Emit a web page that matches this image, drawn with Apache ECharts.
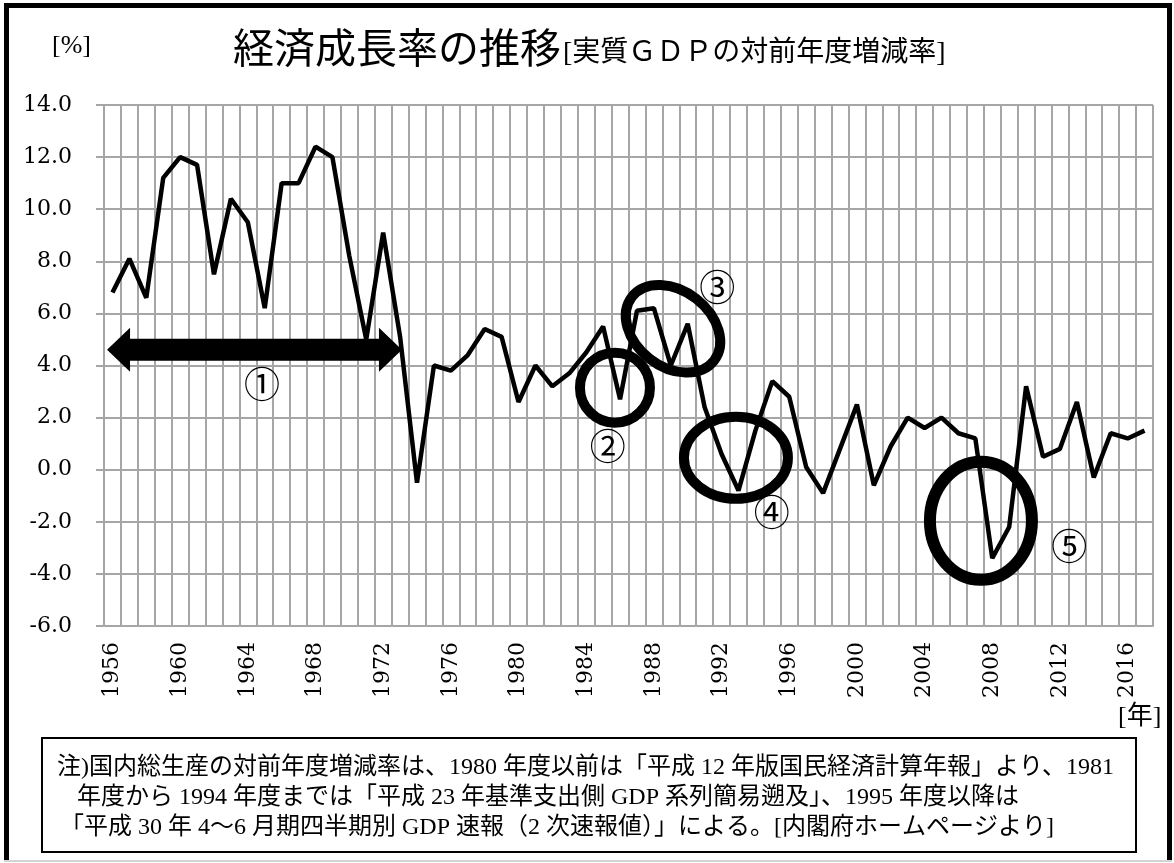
<!DOCTYPE html>
<html>
<head>
<meta charset="utf-8">
<script src="https://cdn.jsdelivr.net/npm/echarts@6/dist/echarts.min.js"></script>
<style>
html,body{margin:0;padding:0;background:#fff;}
#c{width:1174px;height:863px;}
</style>
</head>
<body>
<div id="c"></div>
<script>
// ---- data ----
const years = ['1956','1957','1958','1959','1960','1961','1962','1963','1964','1965',
  '1966','1967','1968','1969','1970','1971','1972','1973','1974','1975',
  '1976','1977','1978','1979','1980','1981','1982','1983','1984','1985',
  '1986','1987','1988','1989','1990','1991','1992','1993','1994','1995',
  '1996','1997','1998','1999','2000','2001','2002','2003','2004','2005',
  '2006','2007','2008','2009','2010','2011','2012','2013','2014','2015',
  '2016','2017'];
const growth = [6.8, 8.1, 6.6, 11.2, 12.0, 11.7, 7.5, 10.4, 9.5, 6.2,
  11.0, 11.0, 12.4, 12.0, 8.2, 5.0, 9.1, 5.1, -0.5, 4.0,
  3.8, 4.4, 5.4, 5.1, 2.6, 4.0, 3.2, 3.7, 4.5, 5.5,
  2.7, 6.1, 6.2, 4.0, 5.6, 2.4, 0.6, -0.8, 1.5, 3.4,
  2.8, 0.1, -0.9, 0.8, 2.5, -0.6, 0.9, 2.0, 1.6, 2.0,
  1.4, 1.2, -3.4, -2.2, 3.2, 0.5, 0.8, 2.6, -0.3, 1.4,
  1.2, 1.5];
const yMin = -6, yMax = 14, yStep = 2;
const titleMain = '経済成長率の推移';
const titleSub = '[実質ＧＤＰの対前年度増減率]';
const yUnit = '[%]';
const xUnit = '[年]';
const noteLines = [
  '注)国内総生産の対前年度増減率は、1980 年度以前は「平成 12 年版国民経済計算年報」より、1981',
  '年度から 1994 年度までは「平成 23 年基準支出側 GDP 系列簡易遡及」、1995 年度以降は',
  '「平成 30 年 4〜6 月期四半期別 GDP 速報（2 次速報値）」による。[内閣府ホームページより]'
];
// annotation anchors: [category index (fractional), value]
const arrowSpan = [-0.32, 17.11, 4.6];
const marks = [
  {label:'①', at:[8.84, 3.26]},
  {label:'②', at:[29.27, 0.88]},
  {label:'③', at:[35.75, 7.02]},
  {label:'④', at:[38.96, -1.64]},
  {label:'⑤', at:[56.55, -2.96]}
];
const ellipses = [
  {at:[29.7, 3.15], rx:35, ry:35, rot:0, w:10},
  {at:[33.13, 5.41], rx:52, ry:38, rot:-38, w:10},
  {at:[36.85, 0.46], rx:52, ry:41, rot:0, w:10},
  {at:[51.33, -1.96], rx:51, ry:59, rot:0, w:12}
];

const SERIF = "'Liberation Serif','Noto Sans CJK JP'";
const NUMF = "'DejaVu Serif','Liberation Serif',serif";
const CJK = "'Noto Sans CJK JP'";
const GRID = '#a6a6a6';

const chart = echarts.init(document.getElementById('c'), null, {renderer:'canvas'});
chart.setOption({
  animation: false,
  backgroundColor: '#fff',
  grid: {left:104, right:21, top:105, bottom:237, containLabel:false},
  xAxis: {
    type: 'category',
    data: years,
    boundaryGap: true,
    axisLine: {show:true, onZero:false, lineStyle:{color:GRID, width:2}},
    axisTick: {show:false, interval:0},
    axisLabel: {interval:3, rotate:90, margin:16, fontFamily:NUMF, fontSize:22, color:'#000'},
    splitLine: {show:true, interval:0, lineStyle:{color:GRID, width:2}}
  },
  yAxis: {
    type: 'value',
    min: yMin, max: yMax, interval: yStep,
    axisLine: {show:true, lineStyle:{color:GRID, width:2}},
    axisTick: {show:true, length:8, lineStyle:{color:GRID, width:2}},
    axisLabel: {margin:32, fontFamily:NUMF, fontSize:22, color:'#000',
      formatter: v => v.toFixed(1)},
    splitLine: {show:true, lineStyle:{color:GRID, width:2}}
  },
  series: [{
    type: 'line',
    data: growth,
    symbol: 'none',
    lineStyle: {color:'#000', width:4.5},
    itemStyle: {color:'#000'},
    z: 5
  }]
});

// annotations positioned through the axes
const n = years.length;
const x0 = chart.convertToPixel({xAxisIndex:0}, 0);
const x1 = chart.convertToPixel({xAxisIndex:0}, n - 1);
const px = f => x0 + (x1 - x0) * f / (n - 1);
const py = v => chart.convertToPixel({yAxisIndex:0}, v);

const g = [];
// outer frame
g.push({type:'polyline', z:100, shape:{points:[[6.5,861],[6.5,5.5],[1169.5,5.5],[1169.5,861]]},
  style:{stroke:'#000', lineWidth:5, fill:null}});
g.push({type:'line', z:100, shape:{x1:4, y1:861, x2:1172, y2:861}, style:{stroke:'#d4d4d4', lineWidth:2}});
// titles
g.push({type:'text', z:100, x:233, y:47, style:{text:titleMain, font:"41px "+CJK, fill:'#000', verticalAlign:'middle'}});
g.push({type:'text', z:100, x:563, y:54, style:{text:titleSub, font:"28px "+SERIF, fill:'#000', verticalAlign:'middle'}});
g.push({type:'text', z:100, x:52, y:46, style:{text:yUnit, font:"26px "+SERIF, fill:'#000', verticalAlign:'middle'}});
g.push({type:'text', z:100, x:1118, y:717, style:{text:xUnit, font:"26px "+SERIF, fill:'#000', verticalAlign:'middle'}});
// note box
g.push({type:'rect', z:100, shape:{x:42, y:738, width:1094, height:114}, style:{stroke:'#000', lineWidth:2, fill:null}});
const noteX = [57, 77, 60];
noteLines.forEach((t, i) => {
  g.push({type:'text', z:100, x:noteX[i], y:768 + i*30, style:{text:t, font:"24px "+SERIF, fill:'#000', verticalAlign:'middle'}});
});
// double arrow
{
  const xl = px(arrowSpan[0]), xr = px(arrowSpan[1]), yc = py(arrowSpan[2]);
  const hl = 23, hh = 22, sh = 11;
  g.push({type:'polygon', z:100, shape:{points:[
    [xl,yc],[xl+hl,yc-hh],[xl+hl,yc-sh],[xr-hl,yc-sh],[xr-hl,yc-hh],[xr,yc],
    [xr-hl,yc+hh],[xr-hl,yc+sh],[xl+hl,yc+sh],[xl+hl,yc+hh]]},
    style:{fill:'#000'}});
}
// ellipses
ellipses.forEach(e => {
  g.push({type:'ellipse', z:100, x:px(e.at[0]), y:py(e.at[1]), rotation:e.rot*Math.PI/180,
    shape:{cx:0, cy:0, rx:e.rx, ry:e.ry}, style:{stroke:'#000', lineWidth:e.w, fill:null}});
});
// circled numbers
marks.forEach(m => {
  g.push({type:'text', z:100, x:px(m.at[0]), y:py(m.at[1]),
    style:{text:m.label, font:"36px "+CJK, fill:'#000', align:'center', verticalAlign:'middle'}});
});
chart.setOption({graphic: g});
</script>
</body>
</html>
